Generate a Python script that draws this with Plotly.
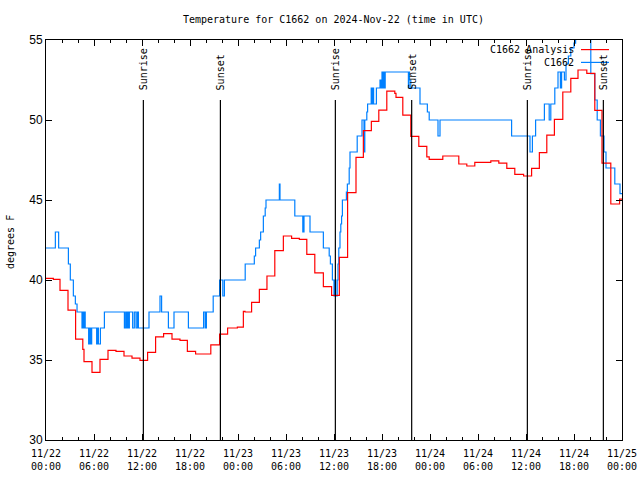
import plotly.graph_objects as go
import pandas as pd

START = pd.Timestamp("2024-11-22 00:00")
END_HOURS = 72

# Hourly analysis (red) - hours since 11/22 00:00 UTC and temperature (F)
analysis_hours = [0, 0.92, 1.75, 2.75, 3.7, 4.6, 4.75, 5.75, 6.75, 7.75, 8.75, 9.75, 10.75,
                  11.75, 12.7, 13.7, 14.7, 15.75, 16.75, 17.67, 18.7, 20.6, 21.7, 22.7, 23.92,
                  24.67, 24.875, 25.7, 26.67, 27.62, 28.6, 29.67, 30.7, 31.67, 32.6, 33.6,
                  34.67, 35.7, 36.67, 37.7, 38.75, 39.67, 40.67, 41.6, 42.6, 43.6, 43.75,
                  44.6, 45.6, 46.6, 47.6, 47.9, 49.6, 51.6, 52.6, 53.6, 55.6, 56.6, 57.6,
                  58.6, 59.7, 60.7, 61.67, 62.6, 63.55, 64.6, 65.6, 66.5, 67.6, 68.6, 69.5,
                  70.6, 71.7]
analysis_temps = [40.1, 40.04, 39.35, 38.12, 36.31, 35.67, 34.9, 34.23, 35.04, 35.6, 35.54,
                  35.25, 35.12, 34.98, 35.48, 36.44, 36.65, 36.31, 36.23, 35.54, 35.375,
                  35.94, 36.62, 37.0, 37.06, 38.04, 38.0, 38.6, 39.42, 40.25, 41.83, 42.75,
                  42.6, 42.54, 41.6, 40.44, 39.58, 39.04, 41.42, 45.46, 47.67, 49.33, 49.92,
                  50.62, 51.8, 51.67, 51.42, 50.31, 48.98, 48.35, 47.7, 47.54, 47.75, 47.25,
                  47.125, 47.35, 47.45, 47.3, 46.98, 46.6, 46.5, 46.98, 47.96, 49.06, 50.04,
                  51.75, 52.6, 53.125, 52.92, 50.6, 47.3, 44.75, 45.05]

# Observations (blue)
obs_hours = [0, 1.17, 1.58, 2.8, 3.04, 3.42, 3.67, 3.88, 4.5, 4.62, 4.7, 4.78, 4.9, 5.33,
             5.46, 5.58, 5.71, 6.33, 6.45, 6.55, 6.8, 7.3, 9.8, 9.96, 10.08, 10.17, 10.3,
             10.42, 10.83, 11.04, 11.25, 11.42, 11.55, 12.875, 14.25, 14.45, 15.3, 16.0,
             17.8, 19.7, 19.9, 20.05, 20.9, 21.7, 22.1, 22.3, 24.9, 26.04, 26.2, 26.67,
             26.83, 27.17, 27.4, 27.5, 29.17, 29.25, 31.1, 32.1, 32.25, 33.0, 34.67, 35.4,
             35.55, 35.8, 36.0, 36.15, 36.2, 36.4, 36.5, 36.6, 36.75, 36.85, 36.95, 37.05,
             37.55, 37.67, 37.9, 38.0, 38.9, 39.5, 39.75, 39.85, 40.1, 40.2, 40.65, 40.75,
             40.85, 40.95, 41.3, 41.75, 41.9, 42.0, 42.1, 42.2, 42.3, 42.4, 45.3, 45.38,
             45.45, 45.6, 46.75, 47.67, 47.9, 49.0, 49.25, 58.2, 60.5, 60.8, 61.2, 62.3,
             62.9, 63.1, 63.6, 64.0, 64.3, 64.45, 64.8, 65.0, 65.3, 65.6, 66.0, 66.2, 68.1,
             68.6, 68.9, 69.3, 69.75, 70.0, 71.1, 71.75]
obs_temps = [42, 43, 42, 41, 40, 39, 38.5, 38, 37, 38, 37, 38, 37, 36,
             37, 36, 37, 36, 37, 36, 37, 38, 37, 38, 37, 38, 37,
             38, 37, 38, 37, 38, 37, 38, 39, 38, 37, 38,
             37, 38, 37, 38, 39, 40, 39, 40, 41, 41.5, 42, 42.5,
             43, 44, 44.5, 45, 46, 45, 44, 43, 44, 43, 42, 41.5,
             41, 40, 39, 40, 39, 40, 41, 42, 43, 43.5, 44, 45,
             45.5, 46, 47, 48, 49, 50, 48, 50, 50.5, 51, 52, 51,
             52, 51, 52, 52.5, 52, 53, 52, 53, 52, 53, 52, 53,
             52.5, 52, 51, 50.5, 50, 49, 50, 49, 48, 49, 50, 51,
             50, 51, 52, 53, 52, 53, 52.5, 53.5, 54, 54.5, 54.8, 56, 52.9,
             51.25, 50, 49, 48, 47, 46, 45.4]

sun_hours = [12.17, 21.8, 36.17, 45.71, 60.17, 69.67]
sun_labels = ["Sunrise", "Sunset", "Sunrise", "Sunset", "Sunrise", "Sunset"]

tick_hours = list(range(0, 73, 6))
y_ticks = [30, 35, 40, 45, 50, 55]

FONT = "DejaVu Sans Mono"


def to_time(hrs):
    return [START + pd.Timedelta(hours=h) for h in hrs]


def extend(hrs, vals):
    return list(hrs) + [END_HOURS], list(vals) + [vals[-1]]


ah, av = extend(analysis_hours, analysis_temps)
oh, ov = extend(obs_hours, obs_temps)

fig = go.Figure()
fig.add_trace(go.Scatter(x=to_time(oh), y=ov, mode="lines", line=dict(color="#0080ff", width=1.2, shape="hv"),
                         name="C1662", showlegend=False))
fig.add_trace(go.Scatter(x=to_time(ah), y=av, mode="lines", line=dict(color="#ff0000", width=1.2, shape="hv"),
                         name="C1662 Analysis", showlegend=False))

# Sunrise / sunset markers
for h, lab in zip(sun_hours, sun_labels):
    t = START + pd.Timedelta(hours=h)
    fig.add_shape(type="line", xref="x", yref="y", x0=t, x1=t, y0=30, y1=51.25,
                  line=dict(color="black", width=1.2))
    fig.add_annotation(x=t, y=51.75, xref="x", yref="y", text=lab, textangle=-90,
                       showarrow=False, xanchor="center", yanchor="bottom",
                       font=dict(family=FONT, size=10, color="black"))

tick_times = to_time(tick_hours)
tick_text = [f"{t:%m/%d}<br>{t:%H:%M}" for t in tick_times]

# Legend (gnuplot style: text left, sample right)
leg_items = [("C1662 Analysis", "#ff0000", 0.976), ("C1662", "#0080ff", 0.944)]
for text, col, yy in leg_items:
    fig.add_annotation(x=0.921, y=yy, xref="paper", yref="paper", text=text, showarrow=False,
                       xanchor="right", yanchor="middle", font=dict(family=FONT, size=10, color="black"))
    fig.add_shape(type="line", xref="paper", yref="paper", x0=0.9288, x1=0.9774, y0=yy, y1=yy,
                  line=dict(color=col, width=1.2))

fig.add_annotation(x=-0.0625, y=0.495, xref="paper", yref="paper", text="degrees F", textangle=-90,
                   showarrow=False, xanchor="center", yanchor="middle",
                   font=dict(family=FONT, size=10, color="black"))

fig.update_layout(
    width=640, height=480,
    margin=dict(l=46, r=18, t=40, b=40, autoexpand=False),
    paper_bgcolor="white", plot_bgcolor="white",
    title=dict(text="Temperature for C1662 on 2024-Nov-22 (time in UTC)", x=0.521, xref="container",
               y=1 - 19 / 480, yref="container", xanchor="center", yanchor="middle",
               font=dict(family=FONT, size=10, color="black")),
    font=dict(family=FONT, size=10, color="black"),
    xaxis=dict(type="date", range=[START, START + pd.Timedelta(hours=END_HOURS)],
               tickmode="array", tickvals=tick_times, ticktext=tick_text,
               ticks="inside", ticklen=6, tickcolor="black", tickwidth=1,
               showline=True, linecolor="black", linewidth=1, mirror="allticks",
               showgrid=False, zeroline=False, ticklabelstandoff=4,
               minor=dict(dtick=2 * 3600 * 1000, ticks="inside", ticklen=3, tickcolor="black", showgrid=False),
               tickfont=dict(family=FONT, size=10, color="black")),
    yaxis=dict(range=[30, 55], tickmode="array", tickvals=y_ticks,
               ticks="inside", ticklen=6, tickcolor="black", tickwidth=1,
               showline=True, linecolor="black", linewidth=1, mirror="allticks",
               showgrid=False, zeroline=False,
               tickfont=dict(family="Liberation Sans", size=12, color="black")),
)

fig.write_html("out.html")
